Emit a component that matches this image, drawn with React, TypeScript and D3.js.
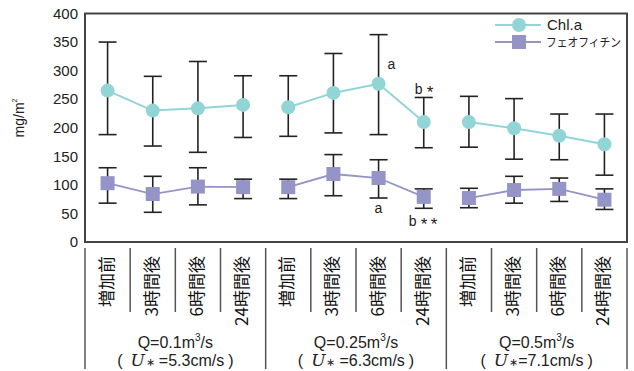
import React from 'react';
import * as d3 from 'd3';

// time labels per group, groups = flow conditions
const timeLabels = ['増加前', '3時間後', '6時間後', '24時間後'];
const groupQ = ['0.1', '0.25', '0.5'];
const groupU = ['5.3', '6.3', '7.1'];
const gapAfterStar = [4, 4, 0];

// Chl.a (mean, upper, lower)
const chlMean = [265, 230, 234, 240, 236, 261, 277, 210, 210, 199, 186, 171];
const chlHigh = [350, 290, 316, 291, 291, 330, 363, 253, 255, 251, 224, 224];
const chlLow = [188, 168, 157, 183, 185, 191, 188, 165, 166, 145, 144, 117];

// フェオフィチン
const pheoMean = [103, 84, 97, 96, 96, 119, 112, 79, 77, 91, 93, 74];
const pheoHigh = [130, 115, 130, 110, 110, 153, 144, 93, 94, 115, 112, 93];
const pheoLow = [68, 52, 65, 76, 76, 81, 77, 59, 60, 68, 71, 57];

const yTicks = [0, 50, 100, 150, 200, 250, 300, 350, 400];

const W = 634, H = 371;
const left = 85, right = 627, top = 13.5, bottom = 242;
const font = 'Liberation Sans, Arial, sans-serif';
const chlColor = '#92d5d6';
const pheoColor = '#9494c6';

export default function App() {
    const idx = d3.range(chlMean.length);
    const x = d3.scaleBand<number>().domain(idx).range([left, right]);
    const y = d3.scaleLinear().domain([0, 400]).range([bottom, top]);
    const cx = (i: number) => (x(i) as number) + x.bandwidth() / 2;
    const cap = 9;

    const errorBars = (hi: number[], lo: number[], key: string) =>
        idx.map(i => (
            <g key={key + i} stroke="#222" strokeWidth={1.6}>
                <line x1={cx(i)} x2={cx(i)} y1={y(hi[i])} y2={y(lo[i])} />
                <line x1={cx(i) - cap} x2={cx(i) + cap} y1={y(hi[i])} y2={y(hi[i])} />
                <line x1={cx(i) - cap} x2={cx(i) + cap} y1={y(lo[i])} y2={y(lo[i])} />
            </g>
        ));

    const groups = [0, 1, 2];

    return (
        <svg width={W} height={H} style={{ position: 'absolute', left: 0, top: 0, background: '#fff' }}
            fontFamily={font}>
            {/* y axis labels */}
            {yTicks.map(t => (
                <text key={t} x={78} y={y(t)} dy="0.35em" textAnchor="end" fontSize={15} fill="#222">{t}</text>
            ))}
            <text transform={`translate(24,${118}) rotate(-90)`} textAnchor="middle" fontSize={14} fill="#222">
                mg/m<tspan dy={-7} fontSize={7}>2</tspan>
            </text>

            {/* error bars */}
            {errorBars(chlHigh, chlLow, 'c')}
            {errorBars(pheoHigh, pheoLow, 'p')}

            {/* series lines, one path per group */}
            {groups.map(g => {
                const s = g * 4;
                const lc = d3.line<number>().x((d, i) => cx(s + i)).y(d => y(d));
                return (
                    <g key={'l' + g}>
                        <path d={lc(chlMean.slice(s, s + 4)) || ''} fill="none" stroke={chlColor} strokeWidth={2} />
                        <path d={lc(pheoMean.slice(s, s + 4)) || ''} fill="none" stroke={pheoColor} strokeWidth={1.8} />
                    </g>
                );
            })}
            {idx.map(i => (
                <circle key={'cc' + i} cx={cx(i)} cy={y(chlMean[i])} r={7} fill={chlColor} />
            ))}
            {idx.map(i => (
                <rect key={'pr' + i} x={cx(i) - 7} y={y(pheoMean[i]) - 7} width={14} height={14} fill={pheoColor} />
            ))}

            {/* significance marks */}
            <g fill="#222" fontSize={14}>
                <text x={cx(6) + 9} y={y(chlMean[6]) - 15}>a</text>
                <text x={cx(7) - 9} y={y(chlHigh[7]) - 3}>b</text>
                <text x={cx(7) + 3} y={y(chlHigh[7]) + 1} fontSize={17}>*</text>
                <text x={cx(6) - 4} y={y(pheoLow[6]) + 15}>a</text>
                <text x={cx(7) - 15} y={y(pheoLow[7]) + 18}>b</text>
                <text x={cx(7) - 3} y={y(pheoLow[7]) + 22} fontSize={17}>*</text>
                <text x={cx(7) + 7} y={y(pheoLow[7]) + 22} fontSize={17}>*</text>
            </g>

            {/* frame */}
            <rect x={left} y={top} width={right - left} height={bottom - top} fill="none" stroke="#444" strokeWidth={2} />

            {/* legend */}
            <line x1={495} x2={541} y1={25} y2={25} stroke={chlColor} strokeWidth={2} />
            <circle cx={519} cy={25} r={7} fill={chlColor} />
            <text x={547} y={25} dy="0.36em" fontSize={15} fill="#222">Chl.a</text>
            <line x1={495} x2={541} y1={42} y2={42} stroke={pheoColor} strokeWidth={1.8} />
            <rect x={512} y={35} width={14} height={14} fill={pheoColor} />
            <text x={546} y={43} dy="0.36em" fontSize={12} fill="#222" fontFamily="Noto Sans CJK JP"
                textLength={75} lengthAdjust="spacingAndGlyphs">フェオフィチン</text>

            {/* category separators */}
            {d3.range(chlMean.length + 1).map(k => {
                const xx = k < chlMean.length ? (x(k) as number) : right;
                const major = k % 4 === 0;
                return (
                    <line key={'s' + k} x1={xx} x2={xx} y1={248} y2={major ? 369 : 312}
                        stroke="#555" strokeWidth={1.5} />
                );
            })}

            {/* time labels, vertical */}
            {idx.map(i => (
                <text key={'t' + i} transform={`translate(${cx(i) + 5},256) rotate(-90)`} textAnchor="end"
                    fontSize={17} fill="#111" fontFamily="Noto Sans CJK JP, Liberation Sans">
                    {timeLabels[i % 4]}
                </text>
            ))}

            {/* group labels */}
            {groups.map(g => {
                const gx = ((x(g * 4) as number) + (x(g * 4 + 3) as number) + x.bandwidth()) / 2;
                return (
                    <g key={'g' + g} fontSize={16} fill="#222">
                        <text x={gx} y={348} textAnchor="middle">
                            Q={groupQ[g]}m<tspan dy={-7} fontSize={10}>3</tspan><tspan dy={7}>/s</tspan>
                        </text>
                        <text x={gx} y={366} textAnchor="middle">
                            (<tspan dx={8} fontFamily="DejaVu Serif" fontStyle="italic" fontSize={17}>U</tspan>
                            <tspan fontSize={11} dx={1}>∗</tspan><tspan dx={gapAfterStar[g]}>={groupU[g]}cm/s</tspan>
                            <tspan dx={4}>)</tspan>
                        </text>
                    </g>
                );
            })}
        </svg>
    );
}
